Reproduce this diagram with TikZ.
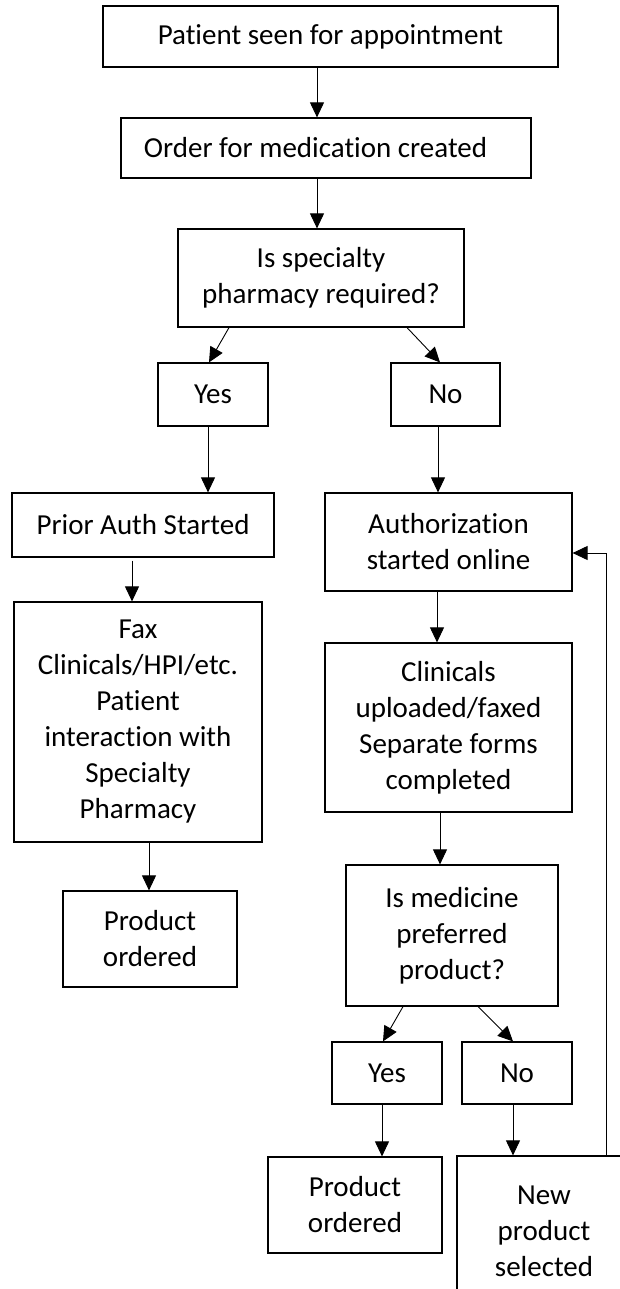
\documentclass[tikz,border=0pt]{standalone}
\usepackage{fontspec}
\setmainfont{Carlito}[Ligatures=NoCommon]
\usetikzlibrary{arrows.meta}
\begin{document}
\begin{tikzpicture}[x=1pt,y=-1pt,
  box/.style={draw, line width=1.2pt, inner sep=0pt, font=\fontsize{29}{36}\selectfont},
  mbox/.style={box, align=center},
  arr/.style={-{Triangle[length=15pt,width=14pt]}, line width=0.9pt}]
\useasboundingbox (0,0) rectangle (620,1289);
\clip (0,0) rectangle (620,1289);
\fill[white] (0,0) rectangle (620,1289);

\node[box, minimum width=455pt, minimum height=61pt] (top) at (330.5,36.5) {Patient seen for appointment};
\node[box, minimum width=410pt, minimum height=60pt] (order) at (326,148) {Order for medication created\hspace*{21pt}};
\node[mbox, minimum width=286pt, minimum height=98pt] (spec) at (321,278) {Is specialty\\pharmacy required?};
\node[box, minimum width=110pt, minimum height=63pt] (yes1) at (213,394.5) {Yes};
\node[box, minimum width=109pt, minimum height=63pt] (no1) at (445.5,394.5) {No};
\node[box, minimum width=262pt, minimum height=64pt] (prior) at (143,525) {Prior Auth Started};
\node[mbox, minimum width=247pt, minimum height=98pt] (auth) at (448.5,542) {Authorization\\started online};
\node[mbox, minimum width=248pt, minimum height=240pt] (fax) at (138,722) {Fax\\Clinicals/HPI/etc.\\Patient\\interaction with\\Specialty\\Pharmacy};
\node[mbox, minimum width=247pt, minimum height=169pt] (clin) at (448.5,727.5) {Clinicals\\uploaded/faxed\\Separate forms\\completed};
\node[mbox, minimum width=174pt, minimum height=96pt] (prod1) at (150,939) {Product\\ordered};
\node[mbox, minimum width=212pt, minimum height=141pt] (med) at (452,935.5) {Is medicine\\preferred\\product?};
\node[box, minimum width=110pt, minimum height=62pt] (yes2) at (387,1073) {Yes};
\node[box, minimum width=110pt, minimum height=62pt] (no2) at (517,1073) {No};
\node[mbox, minimum width=174pt, minimum height=96pt] (prod2) at (355,1205) {Product\\ordered};
\node[mbox, minimum width=174pt, minimum height=150pt] (newp) at (544,1231) {New\\product\\selected};

\draw[arr] ([xshift=-13.5pt]top.south) -- ([xshift=-9pt]order.north);
\draw[arr] ([xshift=-9pt]order.south) -- ([xshift=-4pt]spec.north);
\draw[arr] ([xshift=-92pt]spec.south) -- ([xshift=-4pt]yes1.north);
\draw[arr] ([xshift=86pt]spec.south) -- ([xshift=-5.5pt]no1.north);
\draw[arr] ([xshift=-5pt]yes1.south) -- ([xshift=65pt]prior.north);
\draw[arr] ([xshift=-7.5pt]no1.south) -- ([xshift=-10.5pt]auth.north);
\draw[arr] ([xshift=-11pt,yshift=-3pt]prior.south) -- ([xshift=-6pt]fax.north);
\draw[arr] ([xshift=-11.5pt]auth.south) -- ([xshift=-11.5pt]clin.north);
\draw[arr] ([xshift=11pt]fax.south) -- ([xshift=-1pt]prod1.north);
\draw[arr] ([xshift=-8.5pt]clin.south) -- ([xshift=-12pt]med.north);
\draw[arr] ([xshift=-49pt]med.south) -- ([xshift=-4pt]yes2.north);
\draw[arr] ([xshift=26pt]med.south) -- ([xshift=-4pt]no2.north);
\draw[arr] ([xshift=-5pt]yes2.south) -- ([xshift=27pt]prod2.north);
\draw[arr] ([xshift=-4pt]no2.south) -- ([xshift=-31pt]newp.north);
\draw[arr] ([xshift=62pt]newp.north) |- ([yshift=-11pt]auth.east);
\end{tikzpicture}
\end{document}
